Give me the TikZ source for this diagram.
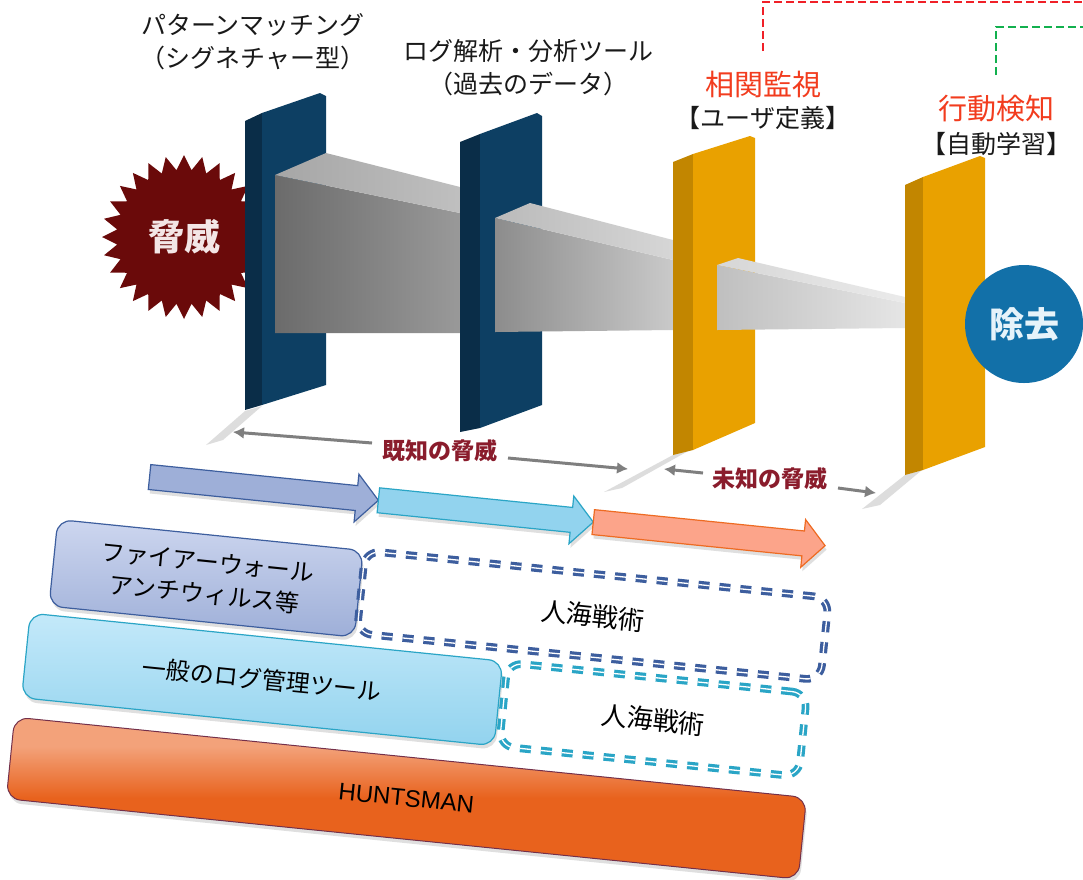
\documentclass[tikz,border=0pt]{standalone}
\usepackage{fontspec}
\setmainfont{Noto Sans CJK JP}
\newfontfamily\latinsans{Liberation Sans}
\usetikzlibrary{shapes.geometric,arrows.meta,shadows}

% palette
\definecolor{wallblue}{HTML}{0D3F63}
\definecolor{wallblueside}{HTML}{0A2D48}
\definecolor{wallgold}{HTML}{E9A100}
\definecolor{wallgoldside}{HTML}{C28600}
\definecolor{threatred}{HTML}{6A0A0A}
\definecolor{threatglyph}{HTML}{F3E6E6}
\definecolor{removeblue}{HTML}{1270A8}
\definecolor{removeglyph}{HTML}{E6F3FA}
\definecolor{labelred}{HTML}{F23C1E}
\definecolor{zonetext}{HTML}{8A1C2C}
\definecolor{zonegray}{HTML}{7F7F7F}
\definecolor{groundgray}{HTML}{DDDDDD}
\definecolor{fwfill}{HTML}{9EAFD8}
\definecolor{fwtop}{HTML}{CDD6EF}
\definecolor{fwline}{HTML}{3D5E9E}
\definecolor{logfill}{HTML}{92D3EE}
\definecolor{logtop}{HTML}{C4E9FA}
\definecolor{logline}{HTML}{2AA5C6}
\definecolor{hunttop}{HTML}{F3A27A}
\definecolor{huntfill}{HTML}{E8621D}
\definecolor{huntline}{HTML}{74304A}
\definecolor{salmonfill}{HTML}{FCA48A}
\definecolor{salmonline}{HTML}{EE6B22}
\definecolor{linkred}{HTML}{F02028}
\definecolor{linkgreen}{HTML}{12B04E}

% vertical shading for the base layer: highlight band on top
\pgfdeclareverticalshading{huntshade}{100bp}{%
  color(0bp)=(huntfill); color(25bp)=(huntfill); color(50bp)=(huntfill);
  color(66bp)=(hunttop); color(75bp)=(hunttop); color(100bp)=(hunttop)}

\tikzset{
  toplabel/.style={font=\fontsize{25}{33}\selectfont, text=black!90, align=center, inner sep=0pt},
  redlabel/.style={font=\fontsize{29}{33}\selectfont, text=labelred, inner sep=0pt},
  sublabel/.style={font=\fontsize{25}{33}\selectfont, text=black!90, inner sep=0pt},
  zonelabel/.style={font=\bfseries\fontsize{23}{26}\selectfont, text=zonetext, inner sep=0pt},
  zonearrow/.style={draw=zonegray, line width=3pt, -{Latex[length=11pt,width=12pt]}},
  linkline/.style={line width=2.6pt, dash pattern=on 8pt off 4pt},
  softshadow/.style={drop shadow={shadow xshift=1.5pt, shadow yshift=-4pt, opacity=0.25}},
  layerbox/.style={rectangle, rounded corners=14pt, inner sep=0pt, align=center,
    font=\fontsize{24}{32}\selectfont, softshadow},
  crowdbox/.style={rectangle, rounded corners=15pt, inner sep=0pt, double=white,
    double distance=1.3pt, line width=3.2pt, dash pattern=on 11pt off 10pt,
    font=\fontsize{26}{30}\selectfont},
  flowarrow/.style={line width=1.2pt, line join=miter, softshadow},
}

\begin{document}
\begin{tikzpicture}[x=1pt,y=-1pt]
\useasboundingbox (0,0) rectangle (1083,879);
\fill[white] (0,0) rectangle (1083,879);

% ---- upper scene: threat, filter walls and shrinking beams ----
\node[star, star points=28, star point ratio=1.22, minimum size=164pt,
      fill=threatred, inner sep=0pt, text=threatglyph,
      font=\bfseries\fontsize{36}{36}\selectfont] (threat) at (184,237) {脅威};

% ground shadows under the walls
\fill[groundgray] (245,411) -- (262,406) -- (223,440) -- (206,445) -- cycle;
\fill[groundgray] (673,455) -- (690,450) -- (622,488) -- (604,492) -- cycle;
\fill[groundgray] (905,475) -- (922,470) -- (880,505) -- (862,509) -- cycle;

% wall 1 (signature)
\fill[wallblueside] (245,121) -- (262,113) -- (262,405) -- (245,410) -- cycle;
\fill[wallblue] (262,113) -- (320,93) -- (326,96) -- (326,385) -- (262,405) -- cycle;

% beam 1
\shade[left color=black!58, right color=black!40] (275,175) -- (460,213) -- (460,333) -- (275,333) -- cycle;
\shade[left color=black!35, right color=black!25] (275,175) -- (326,153) -- (460,187) -- (460,213) -- cycle;

% wall 2 (log analysis)
\fill[wallblueside] (460,142) -- (480,134) -- (480,428) -- (460,432) -- cycle;
\fill[wallblue] (480,134) -- (537,113) -- (542,116) -- (542,405) -- (480,428) -- cycle;

% beam 2
\shade[left color=black!45, right color=black!21] (495,218) -- (673,260) -- (673,330) -- (495,332) -- cycle;
\shade[left color=black!27, right color=black!16] (495,218) -- (530,203) -- (673,240) -- (673,260) -- cycle;

% wall 3 (correlation)
\fill[wallgoldside] (673,162) -- (693,154) -- (693,450) -- (673,455) -- cycle;
\fill[wallgold] (693,154) -- (750,136) -- (755,138) -- (755,423) -- (693,450) -- cycle;

% beam 3
\shade[left color=black!25, right color=black!10] (717,265) -- (905,303) -- (905,328) -- (717,330) -- cycle;
\shade[left color=black!16, right color=black!8] (717,265) -- (738,258) -- (905,297) -- (905,303) -- cycle;

% wall 4 (behaviour)
\fill[wallgoldside] (905,185) -- (923,177) -- (923,470) -- (905,475) -- cycle;
\fill[wallgold] (923,177) -- (980,156) -- (985,158) -- (985,447) -- (923,470) -- cycle;

\node[circle, fill=removeblue, minimum size=118pt, inner sep=0pt, text=removeglyph,
      font=\bfseries\fontsize{35}{35}\selectfont] (remove) at (1024,324) {除去};

% ---- labels above the walls ----
\node[toplabel] (pattern) at (253,42) {パターンマッチング\\（シグネチャー型）};
\node[toplabel] (loganalysis) at (528,68) {ログ解析・分析ツール\\（過去のデータ）};
\node[redlabel] (correl) at (763,84) {相関監視};
\node[sublabel] (correlsub) at (763,118) {【ユーザ定義】};
\node[redlabel] (behav) at (996,109) {行動検知};
\node[sublabel] (behavsub) at (996,144) {【自動学習】};

% dashed leads running off to the right
\coordinate (redfoot) at (763,51);
\coordinate (redend) at (1083,2);
\coordinate (greenfoot) at (996,75);
\coordinate (greenend) at (1083,27);
\draw[linkline, draw=linkred] (redfoot) |- (redend);
\draw[linkline, draw=linkgreen] (greenfoot) |- (greenend);

% ---- known / unknown ranges ----
\node[zonelabel] (known) at (440,451) {既知の脅威};
\coordinate (knownL0) at (372,443);
\coordinate (knownL1) at (233,432);
\coordinate (knownR0) at (508,458);
\coordinate (knownR1) at (628,469);
\draw[zonearrow] (knownL0) -- (knownL1);
\draw[zonearrow] (knownR0) -- (knownR1);

\node[zonelabel] (unknown) at (770,479) {未知の脅威};
\coordinate (unknownL0) at (703,473);
\coordinate (unknownL1) at (664,469);
\coordinate (unknownR0) at (838,488);
\coordinate (unknownR1) at (876,493);
\draw[zonearrow] (unknownL0) -- (unknownL1);
\draw[zonearrow] (unknownR0) -- (unknownR1);

% ---- lower stack, tilted ----
\begin{scope}[rotate=-5.8, transform shape]
  \draw[flowarrow, draw=fwline, fill=fwfill]
    (197,447) -- (405,447) -- (405,435.5) -- (427,459.5) -- (405,483.5) -- (405,472) -- (197,472) -- cycle;
  \draw[flowarrow, draw=logline, fill=logfill]
    (427,447) -- (621,447) -- (621,435.5) -- (643,459.5) -- (621,483.5) -- (621,472) -- (427,472) -- cycle;
  \draw[flowarrow, draw=salmonline, fill=salmonfill]
    (643,447) -- (854,447) -- (854,435.5) -- (876,459.5) -- (854,483.5) -- (854,472) -- (643,472) -- cycle;

  \node[layerbox, draw=fwline, line width=1.2pt, top color=fwtop, bottom color=fwfill,
        minimum width=307pt, minimum height=87pt] (firewall) at (263.5,554.5)
        {ファイアーウォール\\アンチウィルス等};
  \node[crowdbox, draw=fwline, minimum width=466pt, minimum height=83pt]
        (crowdA) at (652,552.5) {人海戦術};

  \node[layerbox, draw=logline, line width=1.2pt, top color=logtop, bottom color=logfill,
        minimum width=475pt, minimum height=85pt] (logtool) at (329.5,649.5)
        {一般のログ管理ツール};
  \node[crowdbox, draw=logline, minimum width=301pt, minimum height=84pt]
        (crowdB) at (722.5,650) {人海戦術};

  \node[layerbox, draw=huntline, line width=1pt, shading=huntshade,
        minimum width=796pt, minimum height=82pt,
        font=\latinsans\fontsize{24}{24}\selectfont] (huntsman) at (485,753) {HUNTSMAN};
\end{scope}
\end{tikzpicture}
\end{document}
